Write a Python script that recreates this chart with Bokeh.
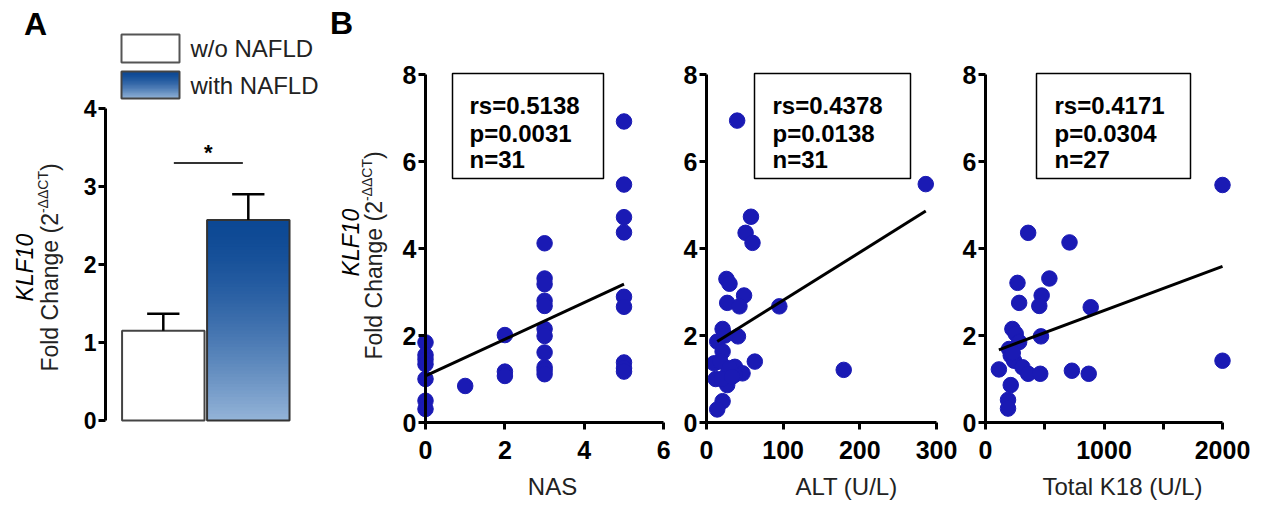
import math
from bokeh.plotting import figure
from bokeh.models import Range1d, FixedTicker, Label, BoxAnnotation
from bokeh.layouts import row
from bokeh.embed import file_html
from bokeh.resources import INLINE

# ---------------- data ----------------
# Panel A
groups = ["w/o NAFLD", "with NAFLD"]
bar_means = [1.15, 2.57]
bar_sem = [0.22, 0.33]
sig_level = 3.3
a_yticks = [0, 1, 2, 3, 4]

# Panel B
nas_x = [0, 0, 0, 0, 0, 0, 0, 1, 2, 2, 2, 3, 3, 3, 3, 3, 3, 3, 3, 3, 3, 3,
         5, 5, 5, 5, 5, 5, 5, 5, 5]
nas_y = [1.84, 1.55, 1.45, 1.34, 1.0, 0.5, 0.31, 0.84, 2.01, 1.17, 1.07,
         4.12, 3.31, 3.18, 2.8, 2.68, 2.15, 1.99, 1.61, 1.27, 1.2, 1.11,
         6.92, 5.47, 4.72, 4.37, 2.89, 2.66, 1.38, 1.25, 1.17]
alt_x = [40, 286, 58, 51, 60, 26, 30, 49, 27, 43, 95, 21, 41, 14, 21, 10, 63,
         179, 37, 47, 12, 27, 21, 14, 27, 37, 18, 30, 20, 33, 24]
alt_y = [6.94, 5.48, 4.73, 4.36, 4.13, 3.3, 3.19, 2.92, 2.75, 2.67, 2.67, 2.15,
         1.98, 1.86, 1.63, 1.36, 1.4, 1.21, 1.28, 1.13, 1.0, 0.86, 0.49, 0.3,
         1.1, 1.1, 1.4, 1.25, 1.0, 1.05, 2.0]
k18_x = [2000, 360, 709, 539, 270, 474, 284, 454, 888, 227, 255, 468, 284, 199,
         213, 241, 2000, 113, 312, 360, 462, 729, 871, 213, 190, 190, 230]
k18_y = [5.46, 4.36, 4.14, 3.31, 3.21, 2.92, 2.75, 2.68, 2.65, 2.15, 2.04, 1.98,
         1.85, 1.69, 1.54, 1.42, 1.42, 1.22, 1.27, 1.12, 1.12, 1.19, 1.12, 0.86,
         0.52, 0.32, 1.6]
fit_nas_x, fit_nas_y = [0, 5], [1.07, 3.18]
fit_alt_x, fit_alt_y = [14, 286], [1.86, 4.86]
fit_k18_x, fit_k18_y = [113, 2000], [1.67, 3.59]
stats_nas = ["rs=0.5138", "p=0.0031", "n=31"]
stats_alt = ["rs=0.4378", "p=0.0138", "n=31"]
stats_k18 = ["rs=0.4171", "p=0.0304", "n=27"]
xlabel_nas, xlabel_alt, xlabel_k18 = "NAS", "ALT (U/L)", "Total K18 (U/L)"
xticks_nas = [0, 2, 4, 6]
xticks_alt = [0, 100, 200, 300]
xticks_k18 = [0, 500, 1000, 1500, 2000]
xticks_k18_unlabeled = [500, 1500]
b_yticks = [0, 2, 4, 6, 8]

# ---------------- style ----------------
FONT = "Liberation Sans"
DOT = "#1a1ab4"
DARK = (12, 72, 148)
LIGHT = (148, 180, 216)
FIG_H = 504


def grad_color(t):
    f = t ** 1.5
    c = [int(round(DARK[i] + (LIGHT[i] - DARK[i]) * f)) for i in range(3)]
    return "#%02x%02x%02x" % tuple(c)


def style_axis(ax, size, standoff):
    ax.axis_line_width = 3
    ax.axis_line_color = "black"
    ax.major_tick_line_width = 3
    ax.major_tick_line_color = "black"
    ax.major_tick_out = 7
    ax.major_tick_in = 0
    ax.minor_tick_line_color = None
    ax.major_label_text_font = FONT
    ax.major_label_text_font_style = "bold"
    ax.major_label_text_font_size = size
    ax.major_label_text_color = "black"
    ax.major_label_standoff = standoff


def add_text(p, x, y, text, size, style="normal", align="left",
             baseline="middle", angle=0.0, color="black"):
    p.add_layout(Label(x=x, y=y, text=text, text_font=FONT,
                       text_font_size=size, text_font_style=style,
                       text_align=align, text_baseline=baseline, angle=angle,
                       text_color=color))


def add_ylabel(p, m, kx, ky, fx, fy):
    add_text(p, *m(kx, ky), "KLF10", "23px", "italic", "center", "middle",
             math.pi / 2)
    main_w = 6.892 * 23
    sup_w = 3.0 * 14
    close_w = 0.333 * 23
    start = fy + (main_w + sup_w + close_w) / 2
    add_text(p, *m(fx, start), "Fold Change (2", "23px", "normal", "left",
             "middle", math.pi / 2, "#222222")
    add_text(p, *m(fx - 7, start - main_w), "-ΔΔCT", "14px", "normal", "left",
             "middle", math.pi / 2, "#222222")
    add_text(p, *m(fx, start - main_w - sup_w), ")", "23px", "normal", "left",
             "middle", math.pi / 2, "#222222")


def make_fig(page_left, width, ax_px, x0, x_unit, ay_px, y_unit):
    """Figure whose frame fills the whole canvas; px -> data mapping."""
    def m(px, py):
        return x0 + (px - ax_px) / x_unit, (ay_px - py) / y_unit
    xa, yb = m(page_left, FIG_H)
    xb, yt = m(page_left + width, 0)
    p = figure(width=width, height=FIG_H, x_range=Range1d(xa, xb),
               y_range=Range1d(yb, yt), min_border=0, min_border_left=0,
               min_border_right=0, min_border_top=0, min_border_bottom=0,
               output_backend="svg", toolbar_location=None)
    p.outline_line_color = None
    p.grid.visible = False
    p.background_fill_color = "white"
    p.border_fill_color = "white"
    return p, m


# ---------------- Panel A ----------------
pa, ma = make_fig(0, 325, 105.0, 0.32, 85.0, 420.0, 78.0)
pa.xaxis.visible = False
pa.xaxis.fixed_location = -0.5
style_axis(pa.yaxis[0], "23px", 2)
pa.yaxis.ticker = FixedTicker(ticks=a_yticks)
pa.yaxis.bounds = (0, 4)
pa.yaxis.fixed_location = 0.32

xs = [1, 2]
bw = 0.97
pa.quad(left=[xs[0] - bw / 2], right=[xs[0] + bw / 2], bottom=[0],
        top=[bar_means[0]], fill_color="white", line_color="#444444",
        line_width=2)
N = 60
v = bar_means[1]
lefts, rights, bots, tops, cols = [], [], [], [], []
for i in range(N):
    lefts.append(xs[1] - bw / 2)
    rights.append(xs[1] + bw / 2)
    bots.append(v * i / N)
    tops.append(min(v, v * (i + 1) / N + 0.03))
    cols.append(grad_color(1 - (i + 0.5) / N))
pa.quad(left=lefts, right=rights, bottom=bots, top=tops, fill_color=cols,
        line_color=None)
pa.quad(left=[xs[1] - bw / 2], right=[xs[1] + bw / 2], bottom=[0], top=[v],
        fill_color=None, line_color="#333333", line_width=2)
cap = 0.19
ups = [mm + s for mm, s in zip(bar_means, bar_sem)]
pa.segment(x0=xs, x1=xs, y0=bar_means, y1=ups, line_color="black",
           line_width=2.5)
pa.segment(x0=[x - cap for x in xs], x1=[x + cap for x in xs], y0=ups, y1=ups,
           line_color="black", line_width=2.5)
pa.segment(x0=[1.124], x1=[1.936], y0=[sig_level], y1=[sig_level],
           line_color="#333333", line_width=2)
add_text(pa, 1.53, sig_level + 0.14, "*", "22px", "bold", "center", "middle")

# legend
lx0, w_top = ma(121, 34)
lx1, w_bot = ma(179, 62)
_, b_top = ma(0, 71)
_, b_bot = ma(0, 98)
pa.quad(left=[lx0], right=[lx1], bottom=[w_bot], top=[w_top],
        fill_color="white", line_color="#555555", line_width=2)
NL = 20
lb, lt, lc = [], [], []
for i in range(NL):
    lb.append(b_bot + (b_top - b_bot) * i / NL)
    lt.append(min(b_top, b_bot + (b_top - b_bot) * (i + 1) / NL + 0.02))
    lc.append(grad_color(1 - (i + 0.5) / NL))
pa.quad(left=[lx0] * NL, right=[lx1] * NL, bottom=lb, top=lt, fill_color=lc,
        line_color=None)
pa.quad(left=[lx0], right=[lx1], bottom=[b_bot], top=[b_top],
        fill_color=None, line_color="#444444", line_width=2)
tx, _ = ma(190, 0)
add_text(pa, tx, (w_top + w_bot) / 2, groups[0], "24px", color="#222222")
add_text(pa, tx, (b_top + b_bot) / 2, groups[1], "24px", color="#222222")

add_text(pa, *ma(35, 23), "A", "32px", "bold", "center", "middle")
add_ylabel(pa, ma, 24, 267, 49, 267)

# ---------------- Panel B ----------------
B_Y0, B_YU = 422.0, 43.5


def make_b(page_left, width, ax_px, x_unit, xs_, ys_, fx, fy, stats, box_px,
           text_px, xlabel, xlabel_px, xticks, unlabeled, xmax):
    p, m = make_fig(page_left, width, ax_px, 0.0, x_unit, B_Y0, B_YU)
    style_axis(p.xaxis[0], "25px", 11)
    style_axis(p.yaxis[0], "25px", 2)
    p.yaxis.ticker = FixedTicker(ticks=b_yticks)
    p.yaxis.bounds = (0, 8)
    p.yaxis.fixed_location = 0
    p.xaxis.ticker = FixedTicker(ticks=xticks)
    p.xaxis.major_label_overrides = {t: "" for t in unlabeled}
    p.xaxis.bounds = (0, xmax)
    p.xaxis.fixed_location = 0

    p.scatter(xs_, ys_, size=15.5, fill_color=DOT, line_color=DOT)
    p.line(fx, fy, line_color="black", line_width=3)
    bl, bt = m(box_px[0], box_px[1])
    br, bb = m(box_px[2], box_px[3])
    p.add_layout(BoxAnnotation(left=bl, right=br, top=bt, bottom=bb,
                               fill_alpha=0, fill_color=None,
                               line_color="black", line_width=1.5,
                               line_alpha=1))
    for s, yy in zip(stats, [105, 133, 159]):
        add_text(p, *m(text_px, yy), s, "24px", "bold", "left", "alphabetic")
    add_text(p, *m(xlabel_px, 486), xlabel, "24px", "normal", "center",
             "middle", 0.0, "#222222")
    return p, m


pb1, mb1 = make_b(325, 355, 425.0, 39.7, nas_x, nas_y, fit_nas_x, fit_nas_y,
                  stats_nas, (452, 73, 603, 178), 469, xlabel_nas, 552,
                  xticks_nas, [], 6)
add_text(pb1, *mb1(341, 22), "B", "32px", "bold", "center", "middle")
add_ylabel(pb1, mb1, 350, 242, 373, 255)

pb2, _ = make_b(680, 278, 706.0, 230 / 300.0, alt_x, alt_y, fit_alt_x,
                fit_alt_y, stats_alt, (754, 73, 910, 178), 772, xlabel_alt,
                846, xticks_alt, [], 300)
pb3, _ = make_b(958, 300, 985.0, 237 / 2000.0, k18_x, k18_y, fit_k18_x,
                fit_k18_y, stats_k18, (1036, 73, 1190, 178), 1054, xlabel_k18,
                1122, xticks_k18, xticks_k18_unlabeled, 2000)

layout = row(pa, pb1, pb2, pb3)
open("out.html", "w").write(file_html(layout, INLINE))
